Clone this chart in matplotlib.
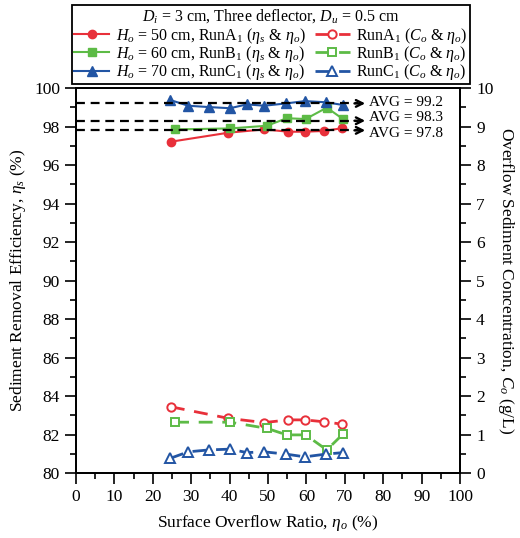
import matplotlib
matplotlib.use("Agg")
import matplotlib.pyplot as plt
from matplotlib.ticker import MultipleLocator

plt.rcParams['font.family'] = ['Liberation Serif', 'DejaVu Serif']
plt.rcParams['mathtext.fontset'] = 'custom'
plt.rcParams['mathtext.rm'] = 'Liberation Serif'
plt.rcParams['mathtext.it'] = 'Liberation Serif:italic'
plt.rcParams['mathtext.bf'] = 'Liberation Serif:bold'

# ---- data ----
xA = [24.7, 39.7, 49.0, 55.3, 59.6, 64.6, 69.2]
etaA = [97.21, 97.68, 97.85, 97.73, 97.73, 97.77, 97.91]
coA = [1.72, 1.42, 1.31, 1.38, 1.38, 1.33, 1.27]

xB = [25.8, 40.1, 49.7, 54.9, 59.8, 65.3, 69.5]
etaB = [97.85, 97.90, 98.04, 98.43, 98.39, 98.98, 98.39]
coB = [1.32, 1.32, 1.16, 0.99, 0.99, 0.60, 1.01]

xC = [24.5, 29.2, 34.6, 40.1, 44.5, 49.0, 54.7, 59.6, 65.0, 69.5]
etaC = [99.38, 99.08, 99.01, 98.95, 99.15, 99.08, 99.20, 99.32, 99.26, 99.12]
coC = [0.38, 0.55, 0.60, 0.62, 0.53, 0.55, 0.49, 0.42, 0.49, 0.53]

avgs = [99.2, 98.3, 97.8]
avg_labels = ['AVG = 99.2', 'AVG = 98.3', 'AVG = 97.8']

labels_s = [r'$H_o$ = 50 cm, RunA$_1$ ($\eta_s$ & $\eta_o$)',
            r'$H_o$ = 60 cm, RunB$_1$ ($\eta_s$ & $\eta_o$)',
            r'$H_o$ = 70 cm, RunC$_1$ ($\eta_s$ & $\eta_o$)']
labels_o = [r'RunA$_1$ ($C_o$ & $\eta_o$)',
            r'RunB$_1$ ($C_o$ & $\eta_o$)',
            r'RunC$_1$ ($C_o$ & $\eta_o$)']
legend_title = r'$D_i$ = 3 cm, Three deflector, $D_u$ = 0.5 cm'

red = '#E8303A'
green = '#5DBB46'
blue = '#2255A4'

fig = plt.figure(figsize=(5.2, 5.38), dpi=100)
ax = fig.add_axes([0.1462, 0.1208, 0.7385, 0.7156])
ax2 = ax.twinx()

FS = 12.5
LFS = 11.5

hs = []
hs.append(ax.plot(xA, etaA, color=red, marker='o', ms=6, lw=1.5, label=labels_s[0])[0])
hs.append(ax.plot(xB, etaB, color=green, marker='s', ms=5.5, lw=1.5, label=labels_s[1])[0])
hs.append(ax.plot(xC, etaC, color=blue, marker='^', ms=6.5, lw=1.5, label=labels_s[2])[0])

dash = (0, (5, 3.5))
ho = []
ho.append(ax2.plot(xA, coA, color=red, marker='o', ms=6, mfc='white', mew=1.4, lw=2, ls=dash, label=labels_o[0])[0])
ho.append(ax2.plot(xB, coB, color=green, marker='s', ms=6, mfc='white', mew=1.4, lw=2, ls=dash, label=labels_o[1])[0])
ho.append(ax2.plot(xC, coC, color=blue, marker='^', ms=7, mfc='white', mew=1.4, lw=2, ls=dash, label=labels_o[2])[0])

text_offsets = [1, 2.5, -2.5]
for v, t, dy in zip(avgs, avg_labels, text_offsets):
    ax.plot([0, 73.5], [v, v], color='black', lw=1.6, ls=(0, (4, 2.6)), zorder=5)
    ax.annotate('', xy=(75.3, v), xytext=(72.5, v),
                arrowprops=dict(arrowstyle='->', lw=1.7, color='black', mutation_scale=12, shrinkA=0, shrinkB=0),
                zorder=6)
    ax.annotate(t, xy=(76.3, v), xytext=(0, dy), textcoords='offset points',
                fontsize=11, va='center', ha='left', zorder=6)

ax.set_xlim(0, 100)
ax.set_ylim(80, 100)
ax2.set_ylim(0, 10)
ax.xaxis.set_major_locator(MultipleLocator(10))
ax.xaxis.set_minor_locator(MultipleLocator(5))
ax.yaxis.set_major_locator(MultipleLocator(2))
ax.yaxis.set_minor_locator(MultipleLocator(1))
ax2.yaxis.set_major_locator(MultipleLocator(1))
ax2.yaxis.set_minor_locator(MultipleLocator(0.5))

for a in (ax, ax2):
    a.tick_params(which='major', direction='out', length=8, width=1.2, labelsize=FS)
    a.tick_params(which='minor', direction='out', length=4.5, width=1.2)
    for s in a.spines.values():
        s.set_linewidth(1.3)
ax.tick_params(axis='x', which='both', top=False)

ax.set_xlabel(r'Surface Overflow Ratio, $\eta_o$ (%)', fontsize=FS, labelpad=6)
ax.set_ylabel(r'Sediment Removal Efficiency, $\eta_s$ (%)', fontsize=FS, labelpad=4)
ax2.set_ylabel(r'Overflow Sediment Concentration, $C_o$ (g/L)', fontsize=FS, rotation=270, labelpad=16)

leg = fig.legend(handles=hs + ho, ncol=2, loc='upper center', bbox_to_anchor=(0.521, 0.991),
                 title=legend_title, title_fontsize=LFS, fontsize=LFS, frameon=True, fancybox=False,
                 edgecolor='black', framealpha=1, handlelength=2.2, handletextpad=0.4,
                 columnspacing=0.6, labelspacing=-0.12, borderpad=0.12, borderaxespad=0.0)
leg.get_frame().set_linewidth(1.3)
leg._legend_box.sep = 1

fig.savefig('out.png', dpi=100)
